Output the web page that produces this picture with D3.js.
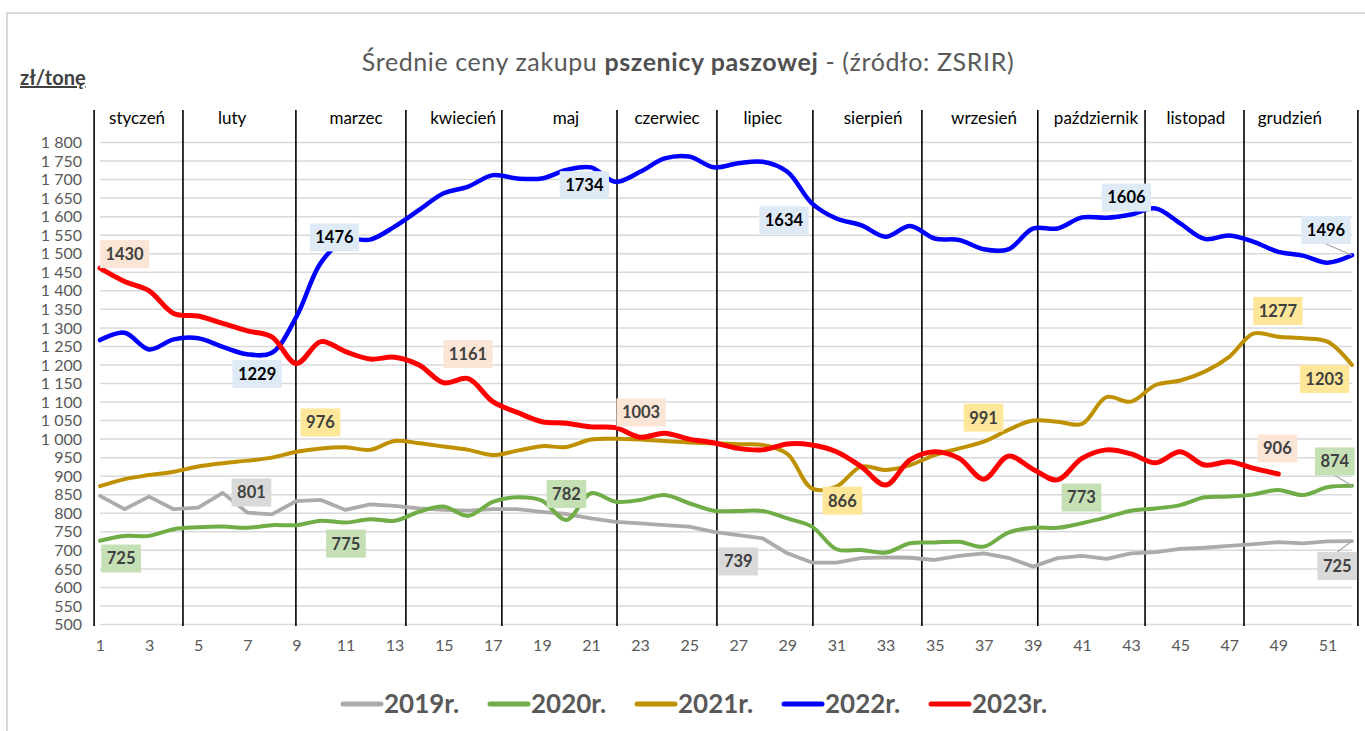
<!DOCTYPE html>
<html><head><meta charset="utf-8">
<script src="https://cdn.jsdelivr.net/npm/d3@7"></script>
<style>
html,body{margin:0;padding:0;background:#fff;}
svg{display:block;font-family:Lato,"Open Sans",sans-serif;}
</style></head>
<body>
<svg id="chart" width="1365" height="731"></svg>
<script>
// ---------- DATA ----------
const seriesNames = ["2019r.", "2020r.", "2021r.", "2022r.", "2023r."];
const months = ["styczeń","luty","marzec","kwiecień","maj","czerwiec","lipiec","sierpień","wrzesień","październik","listopad","grudzień"];
const monthCenters = [2.51, 6.38, 11.43, 15.79, 19.98, 24.1, 28.0, 32.49, 37.01, 41.57, 45.64, 49.47];
const monthBounds = [0.76, 4.38, 8.98, 13.46, 17.37, 22.06, 26.13, 30.04, 34.48, 39.2, 43.57, 47.6, 52.24];
const yTicks = [500,550,600,650,700,750,800,850,900,950,1000,1050,1100,1150,1200,1250,1300,1350,1400,1450,1500,1550,1600,1650,1700,1750,1800];
const xTicks = [1,3,5,7,9,11,13,15,17,19,21,23,25,27,29,31,33,35,37,39,41,43,45,47,49,51];

const s2019 = [847,811,845,811,815,855,802,797,833,836, 809,824,820,813,809,807,811,811,804,798, 786,777,773,768,764,750,741,732,692,667, 667,679,681,680,674,685,692,680,656,679, 685,677,692,695,704,707,712,717,722,719, 724,725];
const s2020 = [726,739,739,757,762,764,761,768,768,780, 775,784,780,804,818,793,831,843,834,782, 854,831,836,849,827,807,806,806,786,764, 703,701,694,719,721,723,710,748,761,761, 773,789,807,813,822,843,845,851,863,849, 870,874];
const s2021 = [873,892,903,912,926,935,942,950,966,975, 978,971,995,989,980,971,957,969,981,979, 999,1001,999,995,991,989,986,984,960,867, 872,926,917,930,957,975,993,1025,1050,1047, 1041,1113,1101,1146,1158,1182,1222,1285,1276,1272, 1263,1200];
const s2022 = [1267,1287,1242,1269,1272,1249,1229,1233,1330,1476, 1538,1538,1573,1618,1663,1681,1712,1703,1703,1726, 1733,1694,1721,1757,1762,1733,1744,1748,1721,1636, 1595,1577,1546,1575,1541,1537,1512,1512,1568,1568, 1598,1597,1606,1622,1582,1540,1549,1532,1505,1495, 1476,1496];
const s2023 = [1461,1425,1400,1339,1332,1312,1292,1276,1204,1263, 1236,1216,1221,1200,1152,1163,1101,1072,1047,1043, 1033,1031,1005,1016,1000,990,975,971,987,984, 966,926,876,944,966,948,892,954,919,890, 948,971,960,936,966,930,939,921,906];

// data labels: series index, box centre (week, value), text, leader anchor week
const labelSeries = [4,3,3,2,0,1,1,4,3,3,4,1,0,2,3,3,2,2,2,4,1,1,0];
const labelText   = ["1430","1229","1476","976","801","725","775","1161","1734","1634","1003","782","739","866","1606","1496","1277","1203","991","906","874","773","725"];
const labelWeek   = [2.0,7.4,10.55,9.98,7.17,1.86,11.02,15.99,20.73,28.86,23.04,20.0,27.0,31.24,42.81,50.94,48.98,50.88,36.99,48.96,51.3,40.98,51.4];
const labelValue  = [1499,1176,1544,1045,856,678,718,1229.5,1685,1590,1072,852,670,834,1651.5,1564,1345.5,1162,1058,975,940,842.5,658];
const labelLeader = [null,null,null,null,null,null,null,null,null,null,null,null,null,null,null,52,null,null,null,null,52,null,52];

// ---------- STYLE ----------
const seriesData = [s2019, s2020, s2021, s2022, s2023];
const colors = ["#AEAAAA", "#70AD47", "#BF9000", "#0000FF", "#FF0000"];
const widths = [3.8, 4, 4, 4.5, 5];
const labelBg = ["#D9D9D9", "#C5E0B4", "#FFE699", "#DEEBF7", "#FBE5D6"];
const labelFg = ["#404040", "#404040", "#404040", "#000000", "#404040"];

const svg = d3.select("#chart");
const x = d3.scaleLinear().domain([1, 52]).range([100, 1352]);
const y = d3.scaleLinear().domain([500, 1800]).range([624.5, 142.5]);
const fmt = d3.formatLocale({decimal: ",", thousands: " ", grouping: [3]}).format(",d");

// frame
svg.append("rect").attr("x", 7).attr("y", 13).attr("width", 1400).attr("height", 800)
  .attr("fill", "none").attr("stroke", "#D9D9D9").attr("stroke-width", 2);

// title
const title = svg.append("text").attr("x", 688).attr("y", 71).attr("text-anchor", "middle")
  .attr("fill", "#595959").style("font-size", "25px").style("letter-spacing", "0.6px");
title.append("tspan").text("Średnie ceny zakupu ");
title.append("tspan").attr("font-weight", "bold").attr("fill", "#505050").text("pszenicy paszowej");
title.append("tspan").text(" - (źródło: ZSRIR)");

// unit label
svg.append("text").attr("x", 20).attr("y", 85).attr("fill", "#404040")
  .attr("font-weight", "bold").style("font-size", "20px").style("text-decoration", "underline")
  .text("zł/tonę");

// gridlines
svg.append("g").selectAll("line").data(yTicks).join("line")
  .attr("x1", x(1)).attr("x2", x(52)).attr("y1", d => y(d)).attr("y2", d => y(d))
  .attr("stroke", "#D9D9D9").attr("stroke-width", 1.5);

// y axis labels
const yAxis = svg.append("g").attr("transform", "translate(96,0)")
  .call(d3.axisLeft(y).tickValues(yTicks).tickFormat(fmt).tickSize(0).tickPadding(14));
yAxis.select(".domain").remove();
yAxis.selectAll("text").attr("fill", "#595959").style("font-size", "16px").style("font-family", "Lato");

// x axis labels
const xAxis = svg.append("g").attr("transform", "translate(0,636)")
  .call(d3.axisBottom(x).tickValues(xTicks).tickFormat(d3.format("d")).tickSize(0).tickPadding(4));
xAxis.select(".domain").remove();
xAxis.selectAll("text").attr("fill", "#595959").style("font-size", "16px").style("font-family", "Lato");

// month dividers
svg.append("g").selectAll("line").data(monthBounds).join("line")
  .attr("x1", d => x(d)).attr("x2", d => x(d)).attr("y1", 110).attr("y2", 626)
  .attr("stroke", "#000").attr("stroke-width", 1.6);

// month labels
svg.append("g").selectAll("text").data(months).join("text")
  .attr("x", (d, i) => x(monthCenters[i])).attr("y", 118).attr("dy", "0.35em")
  .attr("text-anchor", "middle").attr("fill", "#000").style("font-size", "17px")
  .text(d => d);

// series lines
const lineSmooth = d3.line().x((d, i) => x(i + 1)).y(d => y(d)).curve(d3.curveCatmullRom.alpha(0.5));
const lineStraight = d3.line().x((d, i) => x(i + 1)).y(d => y(d));
svg.append("g").selectAll("path").data(seriesData).join("path")
  .attr("d", (d, i) => i === 0 ? lineStraight(d) : lineSmooth(d))
  .attr("fill", "none").attr("stroke", (d, i) => colors[i]).attr("stroke-width", (d, i) => widths[i])
  .attr("stroke-linejoin", "round").attr("stroke-linecap", "round");

// data labels
const lg = svg.append("g");
labelText.forEach((t, i) => {
  const s = labelSeries[i];
  const cx = x(labelWeek[i]), cy = y(labelValue[i]);
  const g = lg.append("g");
  const txt = g.append("text").attr("x", cx).attr("y", cy).attr("dy", "0.36em")
    .attr("text-anchor", "middle").attr("font-weight", "bold").style("font-size", "16.5px")
    .attr("fill", labelFg[s]).text(t);
  const w = txt.node().getComputedTextLength() + 11;
  const h = 28;
  if (labelLeader[i] !== null) {
    const px = x(labelLeader[i]), py = y(seriesData[s][labelLeader[i] - 1]);
    const ey = py > cy ? cy + h / 2 : cy - h / 2;
    g.insert("line", "text").attr("x1", cx).attr("y1", ey).attr("x2", px).attr("y2", py)
      .attr("stroke", "#A6A6A6").attr("stroke-width", 1.2);
  }
  g.insert("rect", "text").attr("x", cx - w / 2).attr("y", cy - h / 2).attr("width", w).attr("height", h)
    .attr("fill", labelBg[s]);
});

// legend
const leg = svg.append("g");
seriesNames.forEach((n, i) => {
  const x0 = 343 + i * 147;
  leg.append("line").attr("x1", x0).attr("x2", x0 + 38).attr("y1", 704).attr("y2", 704)
    .attr("stroke", colors[i]).attr("stroke-width", 5).attr("stroke-linecap", "round");
  leg.append("text").attr("x", x0 + 41).attr("y", 704).attr("dy", "0.36em")
    .attr("fill", "#595959").attr("font-weight", "bold").style("font-size", "26px").text(n);
});
</script>
</body></html>
